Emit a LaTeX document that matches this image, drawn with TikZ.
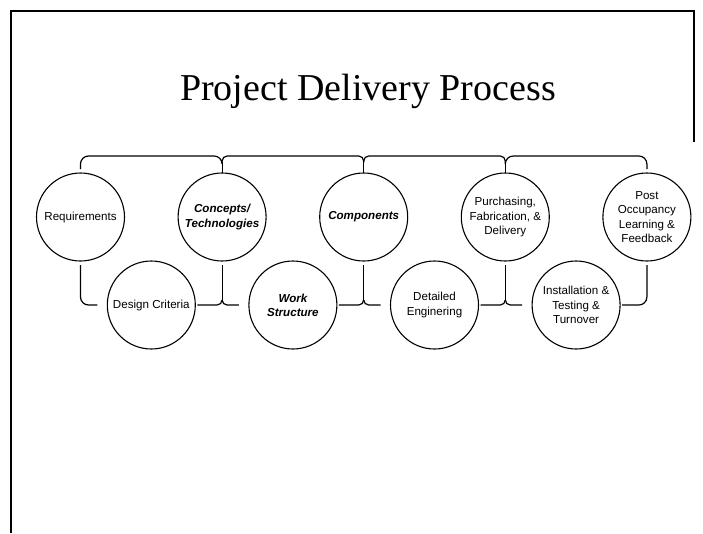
\documentclass[tikz,border=0pt]{standalone}
\usepackage{fontspec}
\setmainfont{Liberation Sans}
\newfontfamily\titlefont{Liberation Serif}
\begin{document}
\begin{tikzpicture}[x=1pt,y=-1pt,
  stage/.style={draw,circle,line width=1.1pt,minimum size=88pt,inner sep=0pt,outer sep=0pt,align=center,font=\fontsize{11.6}{14.2}\selectfont},
  keystage/.style={stage,font=\fontsize{11.6}{14.2}\selectfont\bfseries\itshape},
  link/.style={line width=1.2pt,rounded corners=5pt}]
\useasboundingbox (0,0) rectangle (703,533);
\draw[line width=2pt] (11,533) -- (11,11) -- (694,11) -- (694,142);
\node[anchor=base,font=\titlefont\fontsize{38}{40}\selectfont] (title) at (368,100) {Project Delivery Process};
% top row
\node[stage] (req) at (80.5,217) {Requirements};
\node[keystage] (con) at (222.1,217) {Concepts/\\Technologies};
\node[keystage] (comp) at (363.7,217) {Components};
\node[stage] (pur) at (505.3,217) {Purchasing,\\Fabrication, \&\\Delivery};
\node[stage] (post) at (646.9,217) {Post\\Occupancy\\Learning \&\\Feedback};
% bottom row
\node[stage] (dc) at (151.3,305) {Design Criteria};
\node[keystage] (ws) at (292.9,305) {Work\\Structure};
\node[stage] (de) at (434.5,305) {Detailed\\Enginering};
\node[stage] (inst) at (576.1,305) {Installation \&\\Testing \&\\Turnover};
% bracket levels
\coordinate (top) at (0,156);
\coordinate (tip) at (0,162);
\coordinate (topend) at (0,169);
\coordinate (botend) at (0,265);
\coordinate (cusp) at (0,300);
\coordinate (bot) at (0,305);
% upper bracket
\draw[link,rounded corners=8pt] (req.north |- topend) -- (req.north |- top) -- (con.north |- top) -- (con.north |- tip);
\foreach \a/\b in {con/comp,comp/pur}
  \draw[link] (\a.north |- tip) -- (\a.north |- top) -- (\b.north |- top) -- (\b.north |- tip);
\draw[link,rounded corners=8pt] (pur.north |- tip) -- (pur.north |- top) -- (post.north |- top) -- (post.north |- topend);
\foreach \n in {con,comp,pur}
  \draw[link] (\n.north) -- (\n.north |- tip);
% lower bracket
\draw[link,rounded corners=8pt] (req.south |- botend) -- (req.south |- bot) -- ([xshift=-10pt]dc.west);
\foreach \l/\t/\r in {dc/con/ws,ws/comp/de,de/pur/inst}{
  \draw[link] ([xshift=2pt]\l.east) -- (\t.south |- bot) -- (\t.south |- cusp);
  \draw[link] (\t.south |- cusp) -- (\t.south |- bot) -- ([xshift=-10pt]\r.west);
  \draw[link] (\t.south |- botend) -- (\t.south |- cusp);
}
\draw[link,rounded corners=8pt] ([xshift=2pt]inst.east) -- (post.south |- bot) -- (post.south |- botend);
\end{tikzpicture}
\end{document}
